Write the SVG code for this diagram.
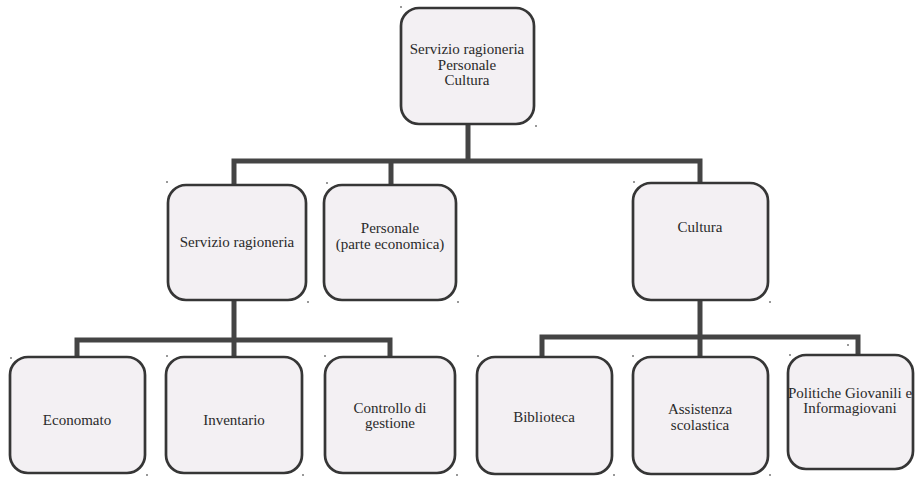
<svg xmlns="http://www.w3.org/2000/svg" width="915" height="477" viewBox="0 0 915 477">
<style>
.box{fill:#f3f0f3;stroke:#363636;stroke-width:2.7}
.lbl{font-family:"Liberation Serif","Times New Roman",serif;font-size:15px;fill:#2a2a2a;text-anchor:middle}
.conn{fill:none;stroke:#444444;stroke-width:5;stroke-linejoin:miter;stroke-linecap:square}
.mk{fill:#777}
</style>
<rect width="915" height="477" fill="#ffffff"/>
<g id="connectors">
<path class="conn" d="M468,124 V161 M234,185 V161 H700 V183 M391,161 V185"/>
<path class="conn" d="M234,300 V340 M77,357 V340 H390 V357 M234,340 V357"/>
<path class="conn" d="M700,300 V337 M542,357 V337 H858 V355 M700,337 V357"/>
</g>
<g id="n-top">
<rect class="box" x="401" y="8" width="133" height="116" rx="18"/>
<text class="lbl" x="467" y="54">Servizio ragioneria</text>
<text class="lbl" x="467" y="70">Personale</text>
<text class="lbl" x="467" y="85">Cultura</text>
</g>
<g id="n-ragioneria">
<rect class="box" x="168" y="185" width="138" height="115" rx="18"/>
<text class="lbl" x="237" y="247">Servizio ragioneria</text>
</g>
<g id="n-personale">
<rect class="box" x="324" y="185" width="132" height="115" rx="18"/>
<text class="lbl" x="390" y="233">Personale</text>
<text class="lbl" x="390" y="249">(parte economica)</text>
</g>
<g id="n-cultura">
<rect class="box" x="633" y="183" width="135" height="117" rx="18"/>
<text class="lbl" x="700" y="232">Cultura</text>
</g>
<g id="n-economato">
<rect class="box" x="10" y="357" width="135" height="116" rx="18"/>
<text class="lbl" x="77" y="425">Economato</text>
</g>
<g id="n-inventario">
<rect class="box" x="166" y="357" width="136" height="116" rx="18"/>
<text class="lbl" x="234" y="425">Inventario</text>
</g>
<g id="n-controllo">
<rect class="box" x="325" y="357" width="130" height="116" rx="18"/>
<text class="lbl" x="390" y="413">Controllo di</text>
<text class="lbl" x="390" y="428">gestione</text>
</g>
<g id="n-biblioteca">
<rect class="box" x="477" y="357" width="135" height="117" rx="18"/>
<text class="lbl" x="544" y="422">Biblioteca</text>
</g>
<g id="n-assistenza">
<rect class="box" x="633" y="357" width="135" height="117" rx="18"/>
<text class="lbl" x="700" y="414">Assistenza</text>
<text class="lbl" x="700" y="430">scolastica</text>
</g>
<g id="n-politiche">
<rect class="box" x="788" y="355" width="125" height="114" rx="18"/>
<text class="lbl" x="850" y="398">Politiche Giovanili e</text>
<text class="lbl" x="850" y="413">Informagiovani</text>
</g>
<g id="marks">
<circle class="mk" cx="401" cy="7" r="1"/><circle class="mk" cx="536" cy="126" r="1"/>
<circle class="mk" cx="167" cy="182" r="1"/><circle class="mk" cx="308" cy="302" r="1"/>
<circle class="mk" cx="327" cy="183" r="1"/><circle class="mk" cx="458" cy="302" r="1"/>
<circle class="mk" cx="634" cy="182" r="1"/><circle class="mk" cx="770" cy="302" r="1"/>
<circle class="mk" cx="11" cy="358" r="1"/><circle class="mk" cx="147" cy="475" r="1"/>
<circle class="mk" cx="167" cy="356" r="1"/><circle class="mk" cx="303" cy="475" r="1"/>
<circle class="mk" cx="325" cy="356" r="1"/><circle class="mk" cx="457" cy="475" r="1"/>
<circle class="mk" cx="478" cy="356" r="1"/><circle class="mk" cx="614" cy="475" r="1"/>
<circle class="mk" cx="633" cy="356" r="1"/><circle class="mk" cx="770" cy="475" r="1"/>
<circle class="mk" cx="790" cy="355" r="1"/><circle class="mk" cx="848" cy="345" r="1"/>
</g>
</svg>
